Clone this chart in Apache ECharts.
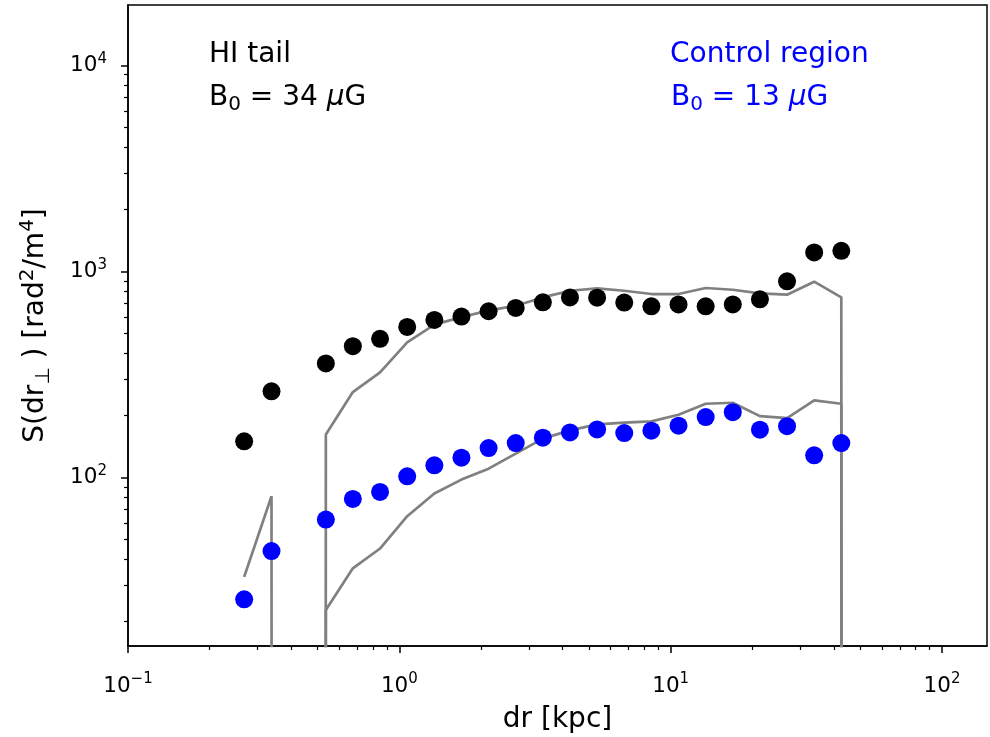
<!DOCTYPE html>
<html>
<head>
<meta charset="utf-8">
<script src="https://cdn.jsdelivr.net/npm/echarts@6/dist/echarts.min.js"></script>
<style>
html,body{margin:0;padding:0;background:#fff;}
#chart{width:990px;height:737px;}
</style>
</head>
<body>
<div id="chart"></div>
<script>
// separations dr [kpc] (log bins)
const drKpc = [0.268, 0.338, 0.425, 0.536, 0.674, 0.849, 1.069, 1.346, 1.694, 2.133, 2.685, 3.38, 4.255, 5.357, 6.744, 8.49, 10.69, 13.46, 16.94, 21.33, 26.85, 33.8, 42.55, 53.57];
// structure function, HI tail (black points); null = not plotted
const hiTail = [150, 262, null, 358, 434, 471, 538, 582, 604, 641, 665, 708, 748, 746, 706, 677, 692, 677, 692, 732, 895, 1236, 1259, null];
// structure function, control region (blue points)
const control = [25.7, 44.0, null, 62.6, 78.8, 85.2, 101.5, 114.7, 125.0, 139.1, 147.1, 156.1, 165.7, 171.3, 164.4, 168.8, 178.5, 196.5, 207.7, 170.8, 177.7, 128.2, 147.1, null];
// gray model curves; 0 = non-positive value (clipped to the bottom on a log axis)
const modelUpper = [0, 0, 0, 162, 260, 324, 453, 552, 600, 646, 682, 748, 806, 827, 806, 777, 777, 831, 815, 782, 771, 892, 748, 0];
const modelLower = [33.0, 81.2, 0, 22.8, 36.3, 45.3, 65.0, 83.7, 97.8, 110.5, 130.7, 154.5, 169.4, 181.1, 184.6, 187.3, 201.8, 228.1, 230.7, 198.7, 194.3, 236.7, 228.1, 0];

// axis ticks
const xMajor = [0.1, 1, 10, 100];
const xMinor = [0.2,0.3,0.4,0.5,0.6,0.7,0.8,0.9, 2,3,4,5,6,7,8,9, 20,30,40,50,60,70,80,90];
const yMajor = [100, 1000, 10000];
const yMinor = [20,30,40,50,60,70,80,90, 200,300,400,500,600,700,800,900, 2000,3000,4000,5000,6000,7000,8000,9000];

const X_MIN = 0.1, X_MAX = 146.5, Y_MIN = 15.25, Y_MAX = 19600;
const FONT = 'DejaVu Sans';

function pairs(ys) {
  const out = [];
  ys.forEach((y, i) => { if (y !== null) out.push([drKpc[i], y]); });
  return out;
}
function linePairs(ys) {
  // matplotlib log-scale 'clip' behaviour for non-positive values
  return ys.map((y, i) => [drKpc[i], y > 0 ? y : 1e-300]);
}
function powLabel(v) {
  const e = Math.round(Math.log10(v));
  return '{b|10}{s|' + (e < 0 ? '\u2212' + (-e) : e) + '}';
}
const tickRich = {
  b: {fontFamily: FONT, fontSize: 21.5, lineHeight: 28, color: '#000'},
  s: {fontFamily: FONT, fontSize: 15, lineHeight: 15, verticalAlign: 'top', color: '#000'}
};
const tickStyle = {color: '#000', width: 1.5};

function annot(color) {
  return {
    n: {fontFamily: FONT, fontSize: 28, lineHeight: 34, fill: color},
    s: {fontFamily: FONT, fontSize: 20, lineHeight: 18, verticalAlign: 'bottom', fill: color},
    i: {fontFamily: FONT, fontSize: 28, lineHeight: 34, fontStyle: 'italic', fill: color}
  };
}

const chart = echarts.init(document.getElementById('chart'), null, {renderer: 'canvas'});
const option = {
  animation: false,
  backgroundColor: '#fff',
  grid: {left: 128, right: 3, top: 5, bottom: 91, show: true, borderColor: '#000', borderWidth: 1.5,
         backgroundColor: 'transparent', containLabel: false, outerBoundsMode: 'none'},
  xAxis: [
    {
      type: 'log', logBase: 10, min: X_MIN, max: X_MAX, position: 'bottom',
      axisLine: {show: true, onZero: false, lineStyle: tickStyle},
      axisTick: {show: true, length: 7, customValues: xMajor, lineStyle: tickStyle},
      axisLabel: {show: true, customValues: xMajor, margin: 26, formatter: powLabel, rich: tickRich},
      splitLine: {show: false}, minorTick: {show: false},
      name: 'dr [kpc]', nameLocation: 'middle', nameGap: 60,
      nameTextStyle: {fontFamily: FONT, fontSize: 28, color: '#000'}
    },
    {
      type: 'log', logBase: 10, min: X_MIN, max: X_MAX, position: 'bottom',
      axisLine: {show: false, onZero: false},
      axisTick: {show: true, length: 4, customValues: xMinor, lineStyle: {color: '#000', width: 1.2}},
      axisLabel: {show: false}, splitLine: {show: false}
    }
  ],
  yAxis: [
    {
      type: 'log', logBase: 10, min: Y_MIN, max: Y_MAX, position: 'left',
      axisLine: {show: true, onZero: false, lineStyle: tickStyle},
      axisTick: {show: true, length: 7, customValues: yMajor, lineStyle: tickStyle},
      axisLabel: {show: true, customValues: yMajor, margin: 21, formatter: powLabel, rich: tickRich},
      splitLine: {show: false}, minorTick: {show: false},
      name: '{n|S(dr}{s|\u22a5}{n| ) [rad}{p|2}{n|/m}{p|4}{n|]}', nameLocation: 'middle', nameGap: 74,
      nameTextStyle: {fontFamily: FONT, fontSize: 28, color: '#000',
        rich: {
          n: {fontFamily: FONT, fontSize: 28, lineHeight: 36, color: '#000'},
          s: {fontFamily: FONT, fontSize: 20, lineHeight: 20, verticalAlign: 'bottom', color: '#000'},
          p: {fontFamily: FONT, fontSize: 20, lineHeight: 22, verticalAlign: 'top', color: '#000'}
        }}
    },
    {
      type: 'log', logBase: 10, min: Y_MIN, max: Y_MAX, position: 'left',
      axisLine: {show: false, onZero: false},
      axisTick: {show: true, length: 4, customValues: yMinor, lineStyle: {color: '#000', width: 1.2}},
      axisLabel: {show: false}, splitLine: {show: false}
    }
  ],
  series: [
    {type: 'line', data: linePairs(modelUpper), xAxisIndex: 0, yAxisIndex: 0, showSymbol: false, symbol: 'none', clip: true, z: 2,
     lineStyle: {color: '#808080', width: 2.7}, silent: true},
    {type: 'line', data: linePairs(modelLower), xAxisIndex: 0, yAxisIndex: 0, showSymbol: false, symbol: 'none', clip: true, z: 2,
     lineStyle: {color: '#808080', width: 2.7}, silent: true},
    {type: 'scatter', data: pairs(hiTail), xAxisIndex: 0, yAxisIndex: 0, symbol: 'circle', symbolSize: 18, z: 3,
     itemStyle: {color: '#000000', opacity: 1}},
    {type: 'scatter', data: pairs(control), xAxisIndex: 0, yAxisIndex: 0, symbol: 'circle', symbolSize: 18, z: 4,
     itemStyle: {color: '#0000ff', opacity: 1}}
  ],
  graphic: [
    {type: 'text', left: 209, top: 41, z: 10,
     style: {text: '{n|HI tail}', rich: annot('#000')}},
    {type: 'text', left: 209, top: 84, z: 10,
     style: {text: '{n|B}{s|0}{n| = 34 }{i|\u03bc}{n|G}', rich: annot('#000')}},
    {type: 'text', left: 670, top: 41, z: 10,
     style: {text: '{n|Control region}', rich: annot('#0000ff')}},
    {type: 'text', left: 671, top: 84, z: 10,
     style: {text: '{n|B}{s|0}{n| = 13 }{i|\u03bc}{n|G}', rich: annot('#0000ff')}}
  ]
};
chart.setOption(option);
</script>
</body>
</html>
